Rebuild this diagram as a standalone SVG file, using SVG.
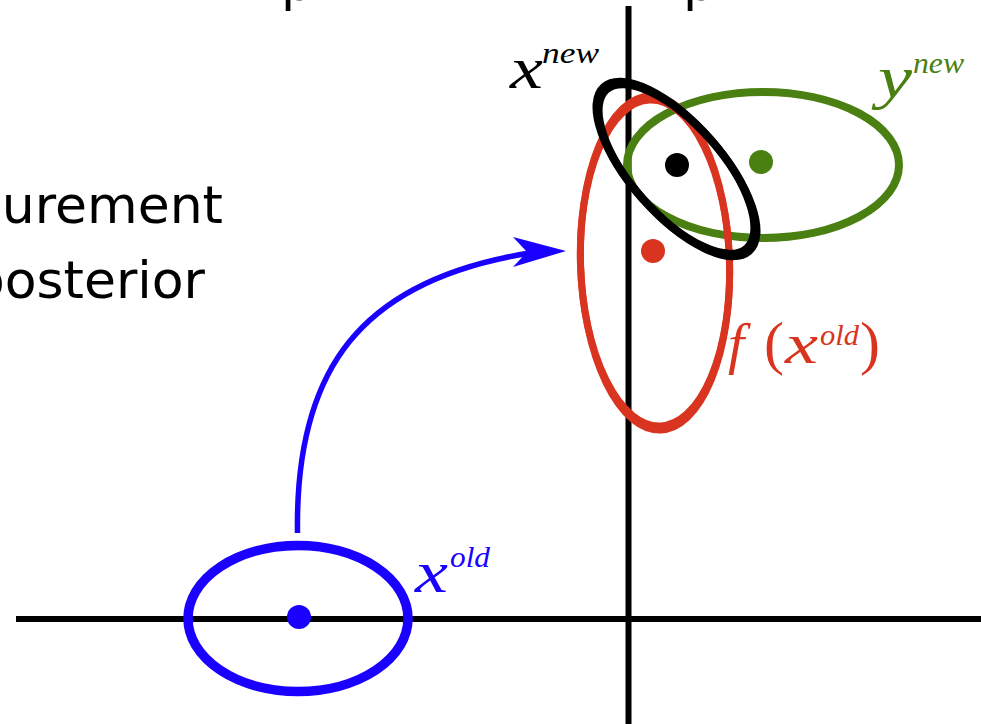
<svg xmlns="http://www.w3.org/2000/svg" width="981" height="724" viewBox="0 0 981 724">
<style>
.axis{stroke:#000;stroke-width:6;fill:none}
.lbl{font-family:"Liberation Serif",serif;font-style:italic;font-weight:normal}
.up{font-family:"Liberation Serif",serif;font-weight:normal}
.sans{font-family:"DejaVu Sans","Liberation Sans",sans-serif;font-size:52px;fill:#000}
.ring{fill:none}
</style>
<rect width="981" height="724" fill="#fff"/>
<g id="title-fragments">
<text class="sans" x="281" y="0">p</text>
<text class="sans" x="683" y="0">p</text>
</g>
<g id="side-text">
<text class="sans" x="223" y="223" text-anchor="end">urement</text>
<text class="sans" x="205" y="298" text-anchor="end">posterior</text>
</g>
<g id="axes">
<line class="axis" x1="16" y1="619" x2="981" y2="619"/>
<line class="axis" x1="628.5" y1="6" x2="628.5" y2="724"/>
</g>
<g id="x-old">
<ellipse class="ring" cx="298" cy="618.5" rx="110" ry="73" stroke="#1a00ff" stroke-width="9.5"/>
<circle cx="299" cy="617" r="12" fill="#1a00ff"/>
<text class="lbl" x="415" y="592" font-size="60" fill="#1a00ff" textLength="33" lengthAdjust="spacingAndGlyphs">x</text>
<text class="lbl" x="450" y="567" font-size="30" fill="#1a00ff" textLength="40" lengthAdjust="spacingAndGlyphs">old</text>
</g>
<g id="y-new">
<ellipse class="ring" cx="763" cy="165" rx="136" ry="73" stroke="#4a7f12" stroke-width="8"/>
<circle cx="761" cy="162" r="12" fill="#4a7f12"/>
<text class="lbl" x="878" y="97" font-size="60" fill="#4a7f12" textLength="34" lengthAdjust="spacingAndGlyphs">y</text>
<text class="lbl" x="913" y="73" font-size="30" fill="#4a7f12" textLength="51" lengthAdjust="spacingAndGlyphs">new</text>
</g>
<g id="f-x-old">
<g transform="rotate(-1.8 655 263)">
<ellipse class="ring" cx="655" cy="263" rx="74.5" ry="163" stroke="#d93420" stroke-width="7"/>
<ellipse class="ring" cx="655" cy="263" rx="74.5" ry="167" stroke="#d93420" stroke-width="7"/>
</g>
<circle cx="653" cy="251" r="12" fill="#d93420"/>
<text class="lbl" x="728" y="363" font-size="58" fill="#d93420">f</text>
<text class="up" x="764" y="363" font-size="60" fill="#d93420">(</text>
<text class="lbl" x="785" y="363" font-size="58" fill="#d93420" textLength="33" lengthAdjust="spacingAndGlyphs">x</text>
<text class="lbl" x="820" y="345" font-size="30" fill="#d93420" textLength="39" lengthAdjust="spacingAndGlyphs">old</text>
<text class="up" x="860" y="363" font-size="60" fill="#d93420">)</text>
</g>
<g id="x-new">
<g transform="rotate(48.5 676.5 169)">
<ellipse class="ring" cx="676.5" cy="169" rx="106" ry="45" stroke="#000" stroke-width="8"/>
<ellipse class="ring" cx="676.5" cy="169" rx="109.5" ry="45" stroke="#000" stroke-width="8"/>
</g>
<circle cx="677" cy="165" r="12" fill="#000"/>
<text class="lbl" x="510" y="88" font-size="60" fill="#000" textLength="33" lengthAdjust="spacingAndGlyphs">x</text>
<text class="lbl" x="542" y="63" font-size="30" fill="#000" textLength="57" lengthAdjust="spacingAndGlyphs">new</text>
</g>
<g id="connectors">
<path d="M297.5,533 C295,370 360,280 530,253" fill="none" stroke="#1a00ff" stroke-width="5.5"/>
<polygon points="566,251 513,237 527,252 513,267" fill="#1a00ff"/>
</g>
</svg>
